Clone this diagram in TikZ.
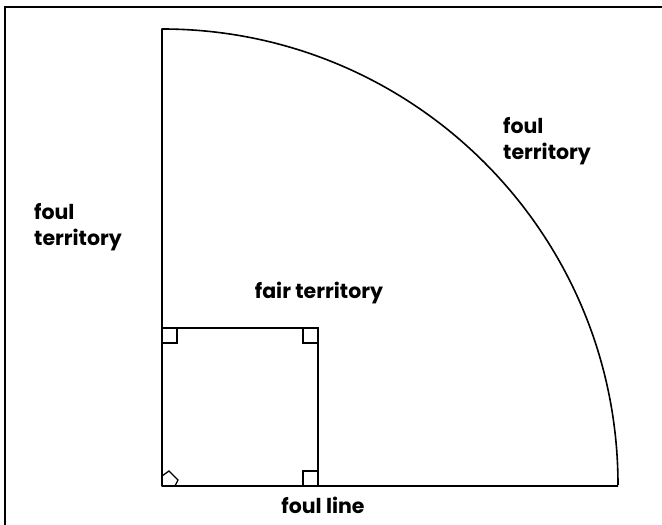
\documentclass[tikz,border=0pt]{standalone}
\usepackage{fontspec}
\setmainfont{Poppins}
\usetikzlibrary{positioning}
\tikzset{
  field/.style={line width=1.6pt,draw=black,line join=round},
  basebox/.style={line width=1.3pt,draw=black},
  zone/.style={font=\fontsize{20.5}{26}\selectfont\bfseries,align=left,inner sep=0pt,text=black}
}
\begin{document}
\begin{tikzpicture}[x=1pt,y=1pt]
  \useasboundingbox (0,0) rectangle (662,525);
  % frame, cut at the right and bottom edges
  \draw[line width=1.8pt] (5,-20) -- (5,518) -- (680,518);
  % corner points of the diamond
  \coordinate (home) at (162,39);
  \coordinate (first) at (318,39);
  \coordinate (second) at (318,197);
  \coordinate (third) at (162,197);
  \coordinate (pole) at (618,39);
  % foul lines and outfield arc
  \draw[field] (pole) -- (home) -- (162,496) arc[start angle=90,end angle=0,radius=456];
  \draw[field] (third) -- (second) -- (first);
  % bases
  \draw[basebox] (first) rectangle ++(-15,15);
  \draw[basebox] (second) rectangle ++(-15,-15);
  \draw[basebox] (third) rectangle ++(15,-15);
  \draw[basebox] (home) -- ++(0,10) -- ++(7,5) -- ++(9,-9) -- ++(-3,-6);
  % labels
  \node[zone,anchor=north west] (leftfoul) at (34,322) {foul\\territory};
  \node[zone,anchor=north west] (rightfoul) at (503,408) {foul\\territory};
  \node[zone] (fair) at (319,232) {fair territory};
  \node[zone] (line) at (323,20) {foul line};
\end{tikzpicture}
\end{document}
